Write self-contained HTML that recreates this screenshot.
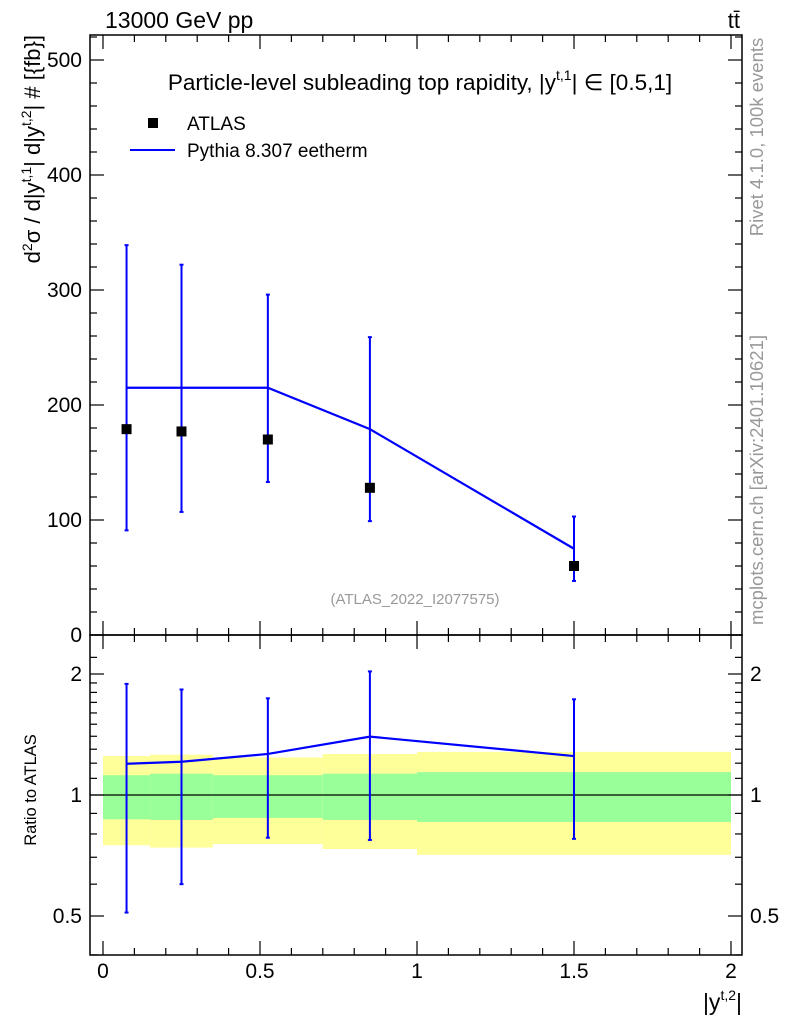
<!DOCTYPE html>
<html><head><meta charset="utf-8"><style>
body{margin:0;background:#fff}
svg{display:block;font-family:"Liberation Sans",sans-serif}
</style></head><body>
<svg id="c" width="786" height="1024" viewBox="0 0 786 1024">
<rect x="0" y="0" width="786" height="1024" fill="#fff"/>
<g id="bands"></g><g id="marks"></g><g id="axes"></g>
<text x="105" y="28" font-size="23">13000 GeV pp</text>
<text x="740" y="28" font-size="22" text-anchor="end">tt̄</text>
<text x="420" y="90" font-size="22.5" text-anchor="middle">Particle-level subleading top rapidity, |y<tspan dy="-10" font-size="14">t,1</tspan><tspan dy="10">|</tspan> ∈ [0.5,1]</text>
<rect x="148" y="118" width="10" height="10" fill="#000"/>
<text x="187" y="130" font-size="19">ATLAS</text>
<line x1="130" y1="150" x2="175" y2="150" stroke="#00f" stroke-width="2"/>
<text x="187" y="157" font-size="19">Pythia 8.307 eetherm</text>
<text x="415" y="604" font-size="15" fill="#999" text-anchor="middle">(ATLAS_2022_I2077575)</text>
<text transform="translate(40,35) rotate(-90)" font-size="22" text-anchor="end">d<tspan dy="-8" font-size="14">2</tspan><tspan dy="8">σ / d|y</tspan><tspan dy="-9" font-size="14">t,1</tspan><tspan dy="9">| d|y</tspan><tspan dy="-9" font-size="14">t,2</tspan><tspan dy="9">| # [{fb}]</tspan></text>
<text transform="translate(36,790) rotate(-90)" font-size="16.5" text-anchor="middle">Ratio to ATLAS</text>
<text transform="translate(763,137) rotate(-90)" font-size="18.5" fill="#999" text-anchor="middle">Rivet 4.1.0,  100k events</text>
<text transform="translate(763,480) rotate(-90)" font-size="18.5" fill="#999" text-anchor="middle">mcplots.cern.ch [arXiv:2401.10621]</text>
<text x="742" y="1010" font-size="23" text-anchor="end">|y<tspan dy="-10" font-size="14">t,2</tspan><tspan dy="10">|</tspan></text>
</svg>
<script>
const binEdges=[0,0.15,0.35,0.7,1.0,2.0];
const xCenters=[0.075,0.25,0.525,0.85,1.5];
const dataVals=[179,177,170,128,60];
const mcVals=[215,215,215,179,75];
const mcErrLo=[91,107,133,99,47];
const mcErrHi=[339,322,296,259,103];
const ratioVals=[1.196,1.21,1.265,1.397,1.25];
const ratioLo=[0.51,0.60,0.783,0.773,0.778];
const ratioHi=[1.89,1.83,1.74,2.03,1.73];
const greenHi=[1.12,1.13,1.12,1.13,1.14];
const greenLo=[0.87,0.867,0.877,0.867,0.857];
const yellowHi=[1.25,1.26,1.24,1.265,1.28];
const yellowLo=[0.75,0.74,0.755,0.734,0.71];
const yTicks=[0,100,200,300,400,500];
const xTicks=[0,0.5,1,1.5,2];
const rTicks=[0.5,1,2];

const NS="http://www.w3.org/2000/svg";
const L=90,R=742,T=35,M=635,B=955;
const X=v=>103+v*314;
const Y=v=>635-v*1.15;
const RY=v=>795-Math.log2(v)*121;
function mk(tag,attrs,parent){const e=document.createElementNS(NS,tag);for(const k in attrs)e.setAttribute(k,attrs[k]);document.getElementById(parent).appendChild(e);return e;}

for(let i=0;i<xCenters.length;i++){
  const x1=X(binEdges[i]),x2=X(binEdges[i+1]);
  let e=mk('rect',{x:x1,y:RY(yellowHi[i]),width:x2-x1,height:RY(yellowLo[i])-RY(yellowHi[i]),fill:'#ffff99'},'bands');
  
  
  e=mk('rect',{x:x1,y:RY(greenHi[i]),width:x2-x1,height:RY(greenLo[i])-RY(greenHi[i]),fill:'#99ff99'},'bands');
  
  
}
let e=mk('line',{x1:L,x2:R,y1:RY(1),y2:RY(1),stroke:'#000','stroke-width':1.3},'bands');



let pts=xCenters.map((x,i)=>X(x)+','+Y(mcVals[i])).join(' ');
e=mk('polyline',{points:pts,fill:'none',stroke:'#00f','stroke-width':2.2},'marks');


pts=xCenters.map((x,i)=>X(x)+','+RY(ratioVals[i])).join(' ');
e=mk('polyline',{points:pts,fill:'none',stroke:'#00f','stroke-width':2.2},'marks');


for(let i=0;i<xCenters.length;i++){
  const x=X(xCenters[i]);
  e=mk('line',{x1:x,x2:x,y1:Y(mcErrLo[i]),y2:Y(mcErrHi[i]),stroke:'#00f','stroke-width':2},'marks');
  
  
  [mcErrLo[i],mcErrHi[i]].forEach(v=>{mk('line',{x1:x-2,x2:x+2,y1:Y(v),y2:Y(v),stroke:'#00f','stroke-width':2},'marks');});
  e=mk('rect',{x:x-5,y:Y(dataVals[i])-5,width:10,height:10,fill:'#000'},'marks');
  
  
  e=mk('line',{x1:x,x2:x,y1:RY(ratioLo[i]),y2:RY(ratioHi[i]),stroke:'#00f','stroke-width':2},'marks');
  
  
  [ratioLo[i],ratioHi[i]].forEach(v=>{mk('line',{x1:x-2,x2:x+2,y1:RY(v),y2:RY(v),stroke:'#00f','stroke-width':2},'marks');});
}
e=mk('rect',{x:L,y:T,width:R-L,height:M-T,fill:'none',stroke:'#000','stroke-width':1.5},'axes');


e=mk('rect',{x:L,y:M,width:R-L,height:B-M,fill:'none',stroke:'#000','stroke-width':1.5},'axes');


function tk(x1,y1,x2,y2){mk('line',{x1,y1,x2,y2,stroke:'#000','stroke-width':1.2},'axes');}
for(let k=0;k<=20;k++){const v=k/10,x=X(v),len=(k%5==0)?14:7;
  tk(x,T,x,T+len);tk(x,M,x,M-len);tk(x,M,x,M+len);tk(x,B,x,B-len);}
xTicks.forEach(v=>{e=mk('text',{x:X(v),y:978,'font-size':21,'text-anchor':'middle'},'axes');e.textContent=String(v);
  
  });
for(let v=0;v<=520;v+=20){const y=Y(v);if(y<T)continue;const len=(v%100==0)?14:7;tk(L,y,L+len,y);tk(R,y,R-len,y);}
yTicks.forEach(v=>{e=mk('text',{x:82,y:Y(v)+7,'font-size':21,'text-anchor':'end'},'axes');e.textContent=String(v);
  
  });
[0.4,0.5,0.6,0.7,0.8,0.9,1,1.1,1.2,1.3,1.4,1.5,1.6,1.7,1.8,1.9,2,2.2].forEach(v=>{const y=RY(v);if(y<M||y>B)return;
  const len=rTicks.includes(v)?14:7;tk(L,y,L+len,y);tk(R,y,R-len,y);});
rTicks.forEach(v=>{
  e=mk('text',{x:82,y:RY(v)+7,'font-size':21,'text-anchor':'end'},'axes');e.textContent=String(v);
  
  
  e=mk('text',{x:750,y:RY(v)+7,'font-size':21},'axes');e.textContent=String(v);
  
  });
</script>
</body></html>
